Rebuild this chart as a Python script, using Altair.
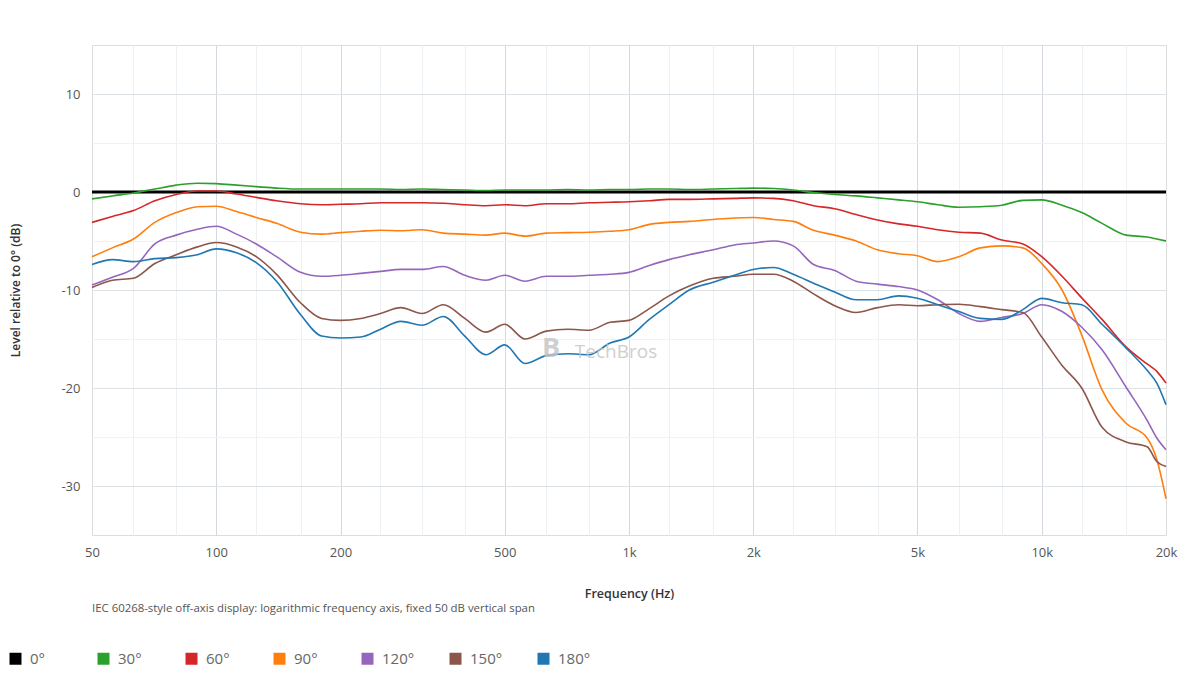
import altair as alt
import pandas as pd

FONT = "Open Sans"

freqs = [50, 56, 63, 71, 80, 90, 100, 112, 125, 140, 160, 180, 200, 224, 250, 280,
         315, 355, 400, 450, 500, 560, 630, 710, 800, 900, 1000, 1120, 1250, 1400,
         1600, 1800, 2000, 2240, 2500, 2800, 3150, 3550, 4000, 4500, 5000, 5600,
         6300, 7100, 8000, 9000, 10000, 11200, 12500, 14000, 16000, 18000, 19000, 20000]

angles = ["0°", "30°", "60°", "90°", "120°", "150°", "180°"]
colors = ["#000000", "#2ca02c", "#d62728", "#ff7f0e", "#9467bd", "#8c564b", "#1f77b4"]

db_0 = [0, 0, 0, 0, 0, 0, 0, 0, 0, 0, 0, 0, 0, 0, 0, 0, 0, 0, 0, 0, 0, 0, 0, 0, 0, 0, 0,
        0, 0, 0, 0, 0, 0, 0, 0, 0, 0, 0, 0, 0, 0, 0, 0, 0, 0, 0, 0, 0, 0, 0, 0, 0, 0, 0]

db_30 = [-0.7, -0.4, -0.1, 0.3, 0.7, 0.9, 0.85, 0.7, 0.55, 0.4, 0.3, 0.3, 0.3, 0.3, 0.3, 0.25,
         0.3, 0.25, 0.2, 0.15, 0.2, 0.2, 0.2, 0.25, 0.2, 0.25, 0.25, 0.3, 0.3, 0.25,
         0.3, 0.35, 0.4, 0.35, 0.2, -0.05, -0.25, -0.4, -0.6, -0.8, -1.0, -1.3,
         -1.55, -1.5, -1.35, -0.85, -0.8, -1.35, -2.1, -3.2, -4.4, -4.6, -4.8, -5.0]

db_60 = [-3.1, -2.5, -1.9, -0.9, -0.25, 0.1, 0.1, -0.2, -0.55, -0.9, -1.2, -1.3, -1.25, -1.2, -1.1, -1.1,
         -1.1, -1.15, -1.3, -1.4, -1.3, -1.4, -1.2, -1.2, -1.1, -1.05, -1.0, -0.9, -0.75, -0.75,
         -0.7, -0.65, -0.6, -0.65, -0.9, -1.4, -1.7, -2.3, -2.85, -3.25, -3.5, -3.85,
         -4.1, -4.2, -4.9, -5.3, -6.6, -8.6, -10.8, -13.0, -15.8, -17.55, -18.3, -19.5]

db_90 = [-6.6, -5.7, -4.8, -3.1, -2.1, -1.5, -1.45, -2.0, -2.6, -3.2, -4.1, -4.3, -4.15, -4.0, -3.9, -3.95,
         -3.85, -4.2, -4.3, -4.4, -4.2, -4.5, -4.2, -4.15, -4.1, -4.0, -3.85, -3.3, -3.1, -3.0,
         -2.8, -2.65, -2.6, -2.8, -3.0, -3.9, -4.4, -5.0, -5.9, -6.3, -6.5, -7.1,
         -6.6, -5.7, -5.5, -5.7, -7.3, -10.0, -14.6, -20.2, -23.6, -25.1, -27.3, -31.3]

db_120 = [-9.5, -8.7, -7.8, -5.3, -4.4, -3.8, -3.5, -4.3, -5.3, -6.6, -8.2, -8.6, -8.5, -8.3, -8.1, -7.9,
          -7.9, -7.6, -8.5, -9.0, -8.5, -9.1, -8.6, -8.6, -8.5, -8.4, -8.2, -7.5, -6.9, -6.4,
          -5.9, -5.4, -5.2, -5.0, -5.5, -7.4, -8.0, -9.1, -9.4, -9.65, -10.0, -11.0,
          -12.4, -13.2, -12.8, -12.4, -11.5, -12.2, -13.8, -16.1, -19.9, -23.3, -25.1, -26.3]

db_150 = [-9.75, -9.0, -8.8, -7.3, -6.4, -5.6, -5.15, -5.6, -6.6, -8.4, -11.3, -12.9, -13.1, -12.9, -12.4, -11.8,
          -12.4, -11.5, -12.9, -14.3, -13.5, -15.0, -14.2, -14.0, -14.1, -13.3, -13.1, -11.9, -10.6, -9.6,
          -8.8, -8.6, -8.4, -8.4, -9.1, -10.4, -11.6, -12.3, -11.8, -11.5, -11.6, -11.5,
          -11.45, -11.7, -12.0, -12.3, -14.8, -17.7, -20.0, -24.0, -25.5, -26.0, -27.5, -28.0]

db_180 = [-7.4, -6.9, -7.1, -6.8, -6.7, -6.4, -5.8, -6.2, -7.2, -9.1, -12.5, -14.7, -14.9, -14.8, -14.0, -13.2,
          -13.6, -12.7, -14.7, -16.6, -15.6, -17.5, -16.7, -16.5, -16.6, -15.4, -14.8, -13.0, -11.5, -10.0,
          -9.2, -8.5, -7.9, -7.7, -8.4, -9.3, -10.2, -11.0, -11.0, -10.6, -10.85, -11.5,
          -12.2, -12.9, -13.0, -12.0, -10.85, -11.3, -11.5, -13.5, -15.9, -18.2, -19.5, -21.7]

series = [db_0, db_30, db_60, db_90, db_120, db_150, db_180]

x_major = [50, 100, 200, 500, 1000, 2000, 5000, 10000, 20000]
x_minor = [63, 80, 125, 160, 250, 315, 400, 630, 800, 1250, 1600, 2500, 3150,
           4000, 6300, 8000, 12500, 16000]
y_ticks = [-35, -30, -25, -20, -15, -10, -5, 0, 5, 10, 15]

x_title = "Frequency (Hz)"
y_title = "Level relative to 0° (dB)"
caption_text = "IEC 60268-style off-axis display: logarithmic frequency axis, fixed 50 dB vertical span"
watermark_text = "TechBros"
watermark_logo = "B"

rows = []
for ang, vals in zip(angles, series):
    assert len(vals) == len(freqs), ang
    for f, v in zip(freqs, vals):
        rows.append({"freq": f, "db": v, "angle": ang})
df = pd.DataFrame(rows)

x_ticks = sorted(x_major + x_minor)
major_list = ",".join(str(v) for v in x_major)
major_test = f"indexof([{major_list}], datum.value) >= 0"
edge_x = "datum.value === 50 || datum.value === 20000"
edge_y = "datum.value === -35 || datum.value === 15"

x_enc = alt.X(
    "freq:Q",
    scale=alt.Scale(type="log", domain=[50, 20000], nice=False),
    axis=alt.Axis(
        values=x_ticks,
        title=x_title,
        labelExpr=f"{major_test} ? (datum.value >= 1000 ? (datum.value / 1000) + 'k' : '' + datum.value) : ''",
        gridColor=alt.condition(major_test, alt.value("#d3d9df"), alt.value("#eef1f4")),
        gridOpacity=alt.condition(edge_x, alt.value(0), alt.value(1)),
        gridWidth=1,
        ticks=False,
        tickSize=0,
        domain=False,
        labelPadding=11,
        labelFontSize=13,
        labelColor="#555555",
        labelFont=FONT,
        labelFlush=False,
        labelOverlap=False,
        labelBound=False,
        titleFont=FONT,
        titleFontSize=12.5,
        titleFontWeight=600,
        titleColor="#333333",
        titleY=58,
        titleBaseline="middle",
    ),
)

y_enc = alt.Y(
    "db:Q",
    scale=alt.Scale(domain=[-35, 15], nice=False, zero=False),
    axis=alt.Axis(
        values=y_ticks,
        title=y_title,
        labelExpr="datum.value % 10 === 0 ? '' + datum.value : ''",
        gridColor=alt.condition("datum.value % 10 === 0", alt.value("#dde2e6"), alt.value("#f0f2f4")),
        gridOpacity=alt.condition(edge_y, alt.value(0), alt.value(1)),
        gridWidth=1,
        ticks=False,
        tickSize=0,
        domain=False,
        labelPadding=12,
        labelFontSize=13,
        labelColor="#555555",
        labelFont=FONT,
        labelOverlap=False,
        titleFont=FONT,
        titleFontSize=12,
        titleFontWeight=600,
        titleColor="#333333",
        titleX=-70,
        titleY=245,
    ),
)

color_enc = alt.Color(
    "angle:N",
    scale=alt.Scale(domain=angles, range=colors),
    sort=angles,
    legend=alt.Legend(
        orient="none",
        legendX=-84,
        legendY=606,
        direction="horizontal",
        columns=7,
        gridAlign="all",
        title=None,
        symbolType="square",
        symbolSize=36,
        symbolStrokeWidth=6,
        labelFont=FONT,
        labelFontSize=15,
        labelColor="#666666",
        labelOffset=7,
        columnPadding=25,
        padding=0,
    ),
)

base = alt.Chart(df)

zero_line = base.transform_filter(alt.datum.angle == "0°").mark_line(
    strokeWidth=3, interpolate="monotone"
).encode(x=x_enc, y=y_enc, color=color_enc)

lines = base.transform_filter(alt.datum.angle != "0°").mark_line(
    strokeWidth=1.6, interpolate="monotone"
).encode(x=x_enc, y=y_enc, color=color_enc, detail="angle:N")

caption = alt.Chart(pd.DataFrame({"t": [caption_text]})).mark_text(
    align="left", baseline="middle", fontSize=11.4, color="#555555", font=FONT
).encode(x=alt.value(0), y=alt.value(564), text="t:N")

wm_text = alt.Chart(pd.DataFrame({"t": [watermark_text]})).mark_text(
    align="center", baseline="middle", fontSize=19, color="#c4c4c4", opacity=0.8, font=FONT
).encode(x=alt.value(524), y=alt.value(307), text="t:N")

wm_logo = alt.Chart(pd.DataFrame({"t": [watermark_logo]})).mark_text(
    align="center", baseline="middle", fontSize=27, fontWeight="bold", color="#c4c4c4", opacity=0.8, font=FONT
).encode(x=alt.value(459), y=alt.value(304), text="t:N")

chart = alt.layer(zero_line, lines, wm_logo, wm_text, caption).properties(
    width=1074,
    height=490,
    autosize=alt.AutoSizeParams(type="none"),
    padding={"left": 84, "top": 37, "right": 26, "bottom": 140},
    background="white",
).configure_view(
    stroke="#bcc4cc", strokeWidth=2
).configure(font=FONT)

chart.save("out.html", embed_options={"renderer": "svg", "actions": False})
